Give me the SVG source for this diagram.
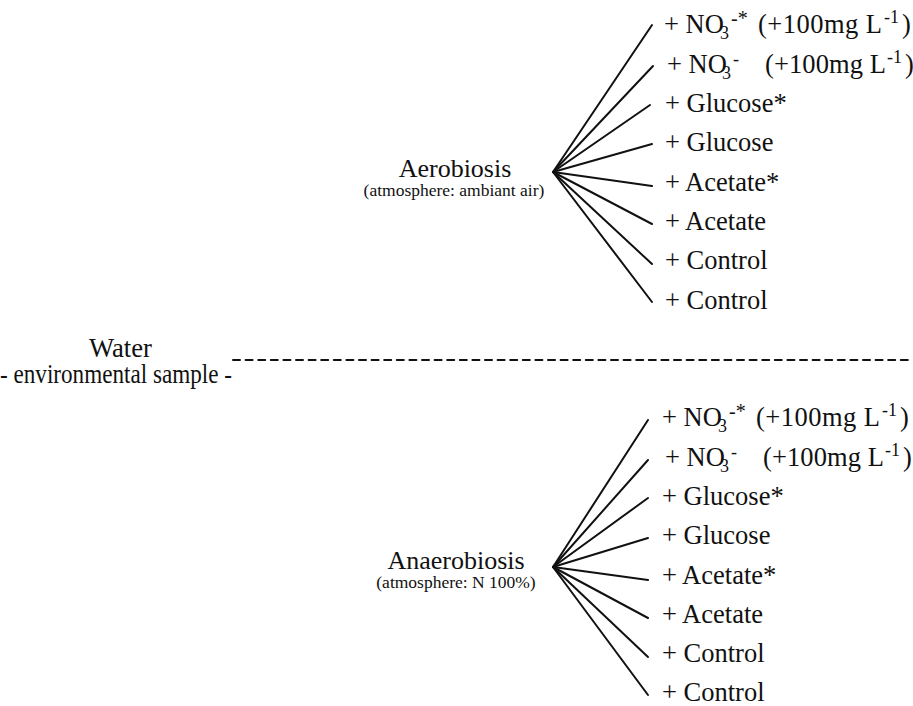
<svg xmlns="http://www.w3.org/2000/svg" width="913" height="706" viewBox="0 0 913 706" font-family="'Liberation Serif', Tinos, 'Times New Roman', Times, serif">
<style>
text{font-family:'Liberation Serif', Tinos, 'Times New Roman', Times, serif;fill:#111}
.lbl{font-size:26.5px}
.big{font-size:26px}
.sub{font-size:17.5px}
.sm{font-size:18px}
.ast{font-size:20px}
.fan line{stroke:#111;stroke-width:2;stroke-linecap:round}
.dash{stroke:#222;stroke-width:1.5;stroke-dasharray:7 5.6}
</style>
<rect width="913" height="706" fill="#fff"/>
<g id="connectors" class="fan">
<line x1="553" y1="172" x2="652" y2="25"/>
<line x1="553" y1="172" x2="653" y2="66"/>
<line x1="553" y1="172" x2="650" y2="105"/>
<line x1="553" y1="172" x2="652" y2="144"/>
<line x1="553" y1="172" x2="652" y2="186"/>
<line x1="553" y1="172" x2="652" y2="224"/>
<line x1="553" y1="172" x2="652" y2="264"/>
<line x1="553" y1="172" x2="652" y2="302"/>
<line x1="553" y1="567" x2="648" y2="420"/>
<line x1="553" y1="567" x2="648" y2="460"/>
<line x1="553" y1="567" x2="648" y2="498"/>
<line x1="553" y1="567" x2="648" y2="538"/>
<line x1="553" y1="567" x2="648" y2="580"/>
<line x1="553" y1="567" x2="648" y2="618"/>
<line x1="553" y1="567" x2="648" y2="657"/>
<line x1="553" y1="567" x2="648" y2="695"/>
<line class="dash" x1="233" y1="360" x2="913" y2="360"/>
</g>
<g id="water">
<text x="89" y="357" font-size="28" textLength="63" lengthAdjust="spacingAndGlyphs">Water</text>
<text x="0" y="383" font-size="28" textLength="232" lengthAdjust="spacingAndGlyphs">- environmental sample -</text>
</g>
<g id="aerobiosis">
<text class="big" x="455" y="177" text-anchor="middle">Aerobiosis</text>
<text class="sub" x="454" y="196" text-anchor="middle">(atmosphere: ambiant air)</text>
</g>
<g id="anaerobiosis">
<text class="big" x="456" y="569" text-anchor="middle">Anaerobiosis</text>
<text class="sub" x="456" y="588" text-anchor="middle">(atmosphere: N 100%)</text>
</g>
<g id="aero-no3-star"><text class="lbl" y="33"><tspan x="664">+ NO</tspan><tspan class="sm" x="720" y="39">3</tspan><tspan class="ast" x="731" y="25">-*</tspan><tspan x="758" y="33" textLength="124" lengthAdjust="spacing">(+100mg L</tspan><tspan class="sm" x="884" y="23">-1</tspan><tspan x="902" y="33">)</tspan></text></g>
<g id="aero-no3"><text class="lbl" y="73"><tspan x="667">+ NO</tspan><tspan class="sm" x="722" y="79">3</tspan><tspan class="sm" x="733" y="65">-</tspan><tspan x="765" y="73" textLength="121" lengthAdjust="spacing">(+100mg L</tspan><tspan class="sm" x="887" y="63">-1</tspan><tspan x="905" y="73">)</tspan></text></g>
<g id="aero-glucose-star"><text class="lbl" x="665" y="112">+ Glucose*</text></g>
<g id="aero-glucose"><text class="lbl" x="665" y="151">+ Glucose</text></g>
<g id="aero-acetate-star"><text class="lbl" x="665" y="191">+ Acetate*</text></g>
<g id="aero-acetate"><text class="lbl" x="665" y="230">+ Acetate</text></g>
<g id="aero-control-1"><text class="lbl" x="665" y="269">+ Control</text></g>
<g id="aero-control-2"><text class="lbl" x="665" y="309">+ Control</text></g>
<g id="anaero-no3-star"><text class="lbl" y="426"><tspan x="662">+ NO</tspan><tspan class="sm" x="718" y="432">3</tspan><tspan class="ast" x="729" y="418">-*</tspan><tspan x="756" y="426" textLength="124" lengthAdjust="spacing">(+100mg L</tspan><tspan class="sm" x="882" y="416">-1</tspan><tspan x="900" y="426">)</tspan></text></g>
<g id="anaero-no3"><text class="lbl" y="466"><tspan x="665">+ NO</tspan><tspan class="sm" x="720" y="472">3</tspan><tspan class="sm" x="731" y="458">-</tspan><tspan x="763" y="466" textLength="121" lengthAdjust="spacing">(+100mg L</tspan><tspan class="sm" x="885" y="456">-1</tspan><tspan x="903" y="466">)</tspan></text></g>
<g id="anaero-glucose-star"><text class="lbl" x="662" y="505">+ Glucose*</text></g>
<g id="anaero-glucose"><text class="lbl" x="662" y="544">+ Glucose</text></g>
<g id="anaero-acetate-star"><text class="lbl" x="662" y="584">+ Acetate*</text></g>
<g id="anaero-acetate"><text class="lbl" x="662" y="623">+ Acetate</text></g>
<g id="anaero-control-1"><text class="lbl" x="662" y="662">+ Control</text></g>
<g id="anaero-control-2"><text class="lbl" x="662" y="701">+ Control</text></g>
</svg>
